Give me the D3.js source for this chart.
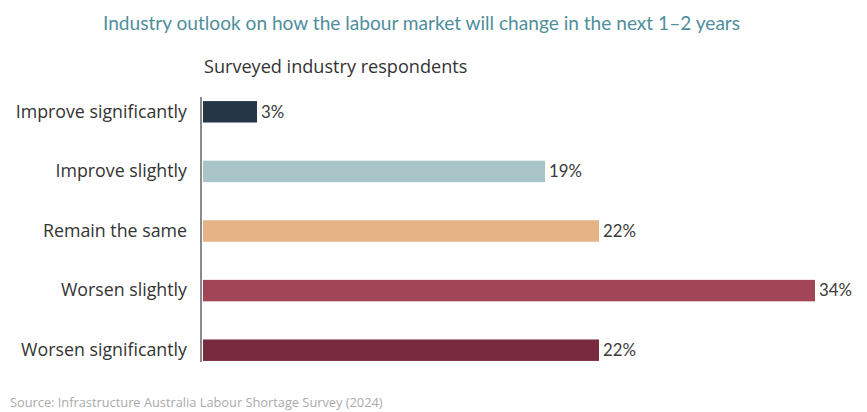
<!DOCTYPE html>
<html>
<head>
<meta charset="utf-8">
<script src="https://cdn.jsdelivr.net/npm/d3@7"></script>
<style>
  html, body { margin: 0; padding: 0; background: #fff; }
  svg { display: block; }
</style>
</head>
<body>
<svg id="chart" width="867" height="412"></svg>
<script>
// Survey responses: share of industry respondents per outlook
const categories = [
  "Improve significantly",
  "Improve slightly",
  "Remain the same",
  "Worsen slightly",
  "Worsen significantly"
];
const values = [3, 19, 22, 34, 22];
const barColors = ["#253746", "#a8c4c7", "#e5b385", "#a24556", "#782b3e"];

const titleText = "Industry outlook on how the labour market will change in the next 1\u20132 years";
const subtitleText = "Surveyed industry respondents";
const sourceText = "Source: Infrastructure Australia Labour Shortage Survey (2024)";

const SANS = "'Open Sans', Lato, sans-serif";
const LATO = "Lato, 'Open Sans', sans-serif";

const svg = d3.select("#chart");

const x = d3.scaleLinear().domain([0, 34]).range([203, 815]);
const y = d3.scaleBand().domain(categories).range([82, 380]).paddingInner(0.64).paddingOuter(0.32);

// Title and subtitle
svg.append("text")
  .attr("x", 103).attr("y", 30)
  .attr("fill", "#4f8e9c")
  .style("font-family", LATO)
  .style("font-size", "19.1px")
  .text(titleText);

svg.append("text")
  .attr("x", 204).attr("y", 73)
  .attr("fill", "#333")
  .style("font-family", SANS)
  .style("font-size", "18.1px")
  .text(subtitleText);

// Bars
svg.append("g").selectAll("rect")
  .data(values)
  .join("rect")
  .attr("x", x(0))
  .attr("y", (d, i) => y(categories[i]))
  .attr("width", d => x(d) - x(0))
  .attr("height", y.bandwidth())
  .attr("fill", (d, i) => barColors[i]);

// Value labels
svg.append("g").selectAll("text")
  .data(values)
  .join("text")
  .attr("x", d => x(d) + 4)
  .attr("y", (d, i) => y(categories[i]) + y.bandwidth() / 2)
  .attr("dy", "0.35em")
  .attr("fill", "#3a3a3a")
  .style("font-family", LATO)
  .style("font-size", "16.8px")
  .text(d => d + "%");

// Category axis on the left
const axis = svg.append("g")
  .attr("transform", `translate(${x(0) - 2},0)`)
  .call(d3.axisLeft(y).tickSize(0).tickPadding(14));
axis.select(".domain")
  .attr("d", "M0,97V362")
  .attr("stroke", "#8a8a8a")
  .attr("stroke-width", 2);
axis.selectAll(".tick text")
  .attr("fill", "#333")
  .style("font-family", SANS)
  .style("font-size", "17.8px");

// Source note
svg.append("text")
  .attr("x", 10).attr("y", 407)
  .attr("fill", "#aaa")
  .style("font-family", SANS)
  .style("font-size", "12.8px")
  .text(sourceText);
</script>
</body>
</html>
